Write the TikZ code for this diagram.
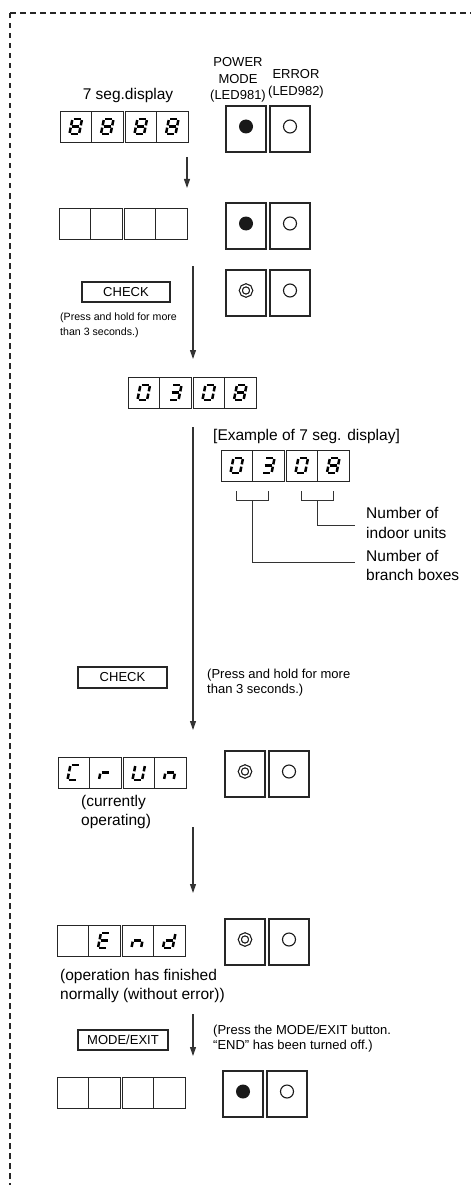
\documentclass[tikz,border=0pt]{standalone}
\usepackage{fontspec}
\setmainfont{Liberation Sans}
\usetikzlibrary{positioning, arrows.meta, calc}

\newcommand\bigtxt{\fontsize{15.5}{19}\selectfont}
\newcommand\smalltxt{\fontsize{13}{15}\selectfont}

% segment pairs of the 7-segment characters
\def\segeight{tl/tr,tr/mr,mr/br,bl/br,ml/bl,tl/ml,ml/mr}
\def\segzero{tl/tr,tr/mr,mr/br,bl/br,ml/bl,tl/ml}
\def\segthree{tl/tr,tr/mr,mr/br,bl/br,ml/mr}
\def\segC{tl/tr,tl/ml,ml/bl,bl/br}
\def\segr{ml/mr,ml/bl}
\def\segU{tr/mr,mr/br,bl/br,ml/bl,tl/ml}
\def\segn{ml/mr,mr/br,ml/bl}
\def\segE{tl/tr,tl/ml,ml/mr,ml/bl,bl/br}
\def\segd{tr/mr,mr/br,bl/br,ml/bl,ml/mr}

\tikzset{
  segcell/.style={draw=black!85, line width=0.9pt, minimum width=31.5pt, minimum height=31pt,
    inner sep=0pt, outer sep=0pt, anchor=north west},
  segline/.style={line width=2.5pt, shorten <=1.2pt, shorten >=1.2pt},
  ledbox/.style={draw=black!85, line width=1.2pt, minimum width=40pt, minimum height=46pt,
    inner sep=0pt, outer sep=0pt, anchor=north west},
  ledon/.style={circle, fill=black!90, minimum size=14pt, inner sep=0pt},
  ledoff/.style={circle, draw=black!90, line width=1.1pt, minimum size=13pt, inner sep=0pt},
  ledblink/.style={circle, draw=black!90, line width=1.2pt, double, double distance=1.6pt,
    minimum size=10.4pt, inner sep=0pt},
  btn/.style={draw=black!85, line width=1.2pt, minimum width=88pt, minimum height=20pt,
    inner sep=0pt, font=\smalltxt},
  flow/.style={draw=black!80, line width=1.1pt, -{Triangle[length=9pt, width=6pt]}},
  leader/.style={draw=black!80, line width=0.9pt},
  note/.style={inner sep=0pt, align=left, anchor=west},
}

% four cells: #1 name, (#2,#3) top left corner
\newcommand\segdisplay[3]{%
  \node[segcell] (#1-1) at (#2,#3) {};
  \node[segcell, right=0pt of #1-1] (#1-2) {};
  \node[segcell, right=2pt of #1-2] (#1-3) {};
  \node[segcell, right=0pt of #1-3] (#1-4) {};}

% one character in cell #1
\newcommand\segchar[2]{%
  \begin{scope}[shift={(#1.center)}, xslant=0.2]
    \coordinate (tl) at (-4.8,-7.6); \coordinate (tr) at (4.8,-7.6);
    \coordinate (ml) at (-4.8,0);    \coordinate (mr) at (4.8,0);
    \coordinate (bl) at (-4.8,7.6);  \coordinate (br) at (4.8,7.6);
    \foreach \p/\q in #2 {\draw[segline] (\p) -- (\q);}
  \end{scope}}

% POWER MODE / ERROR boxes: #1 name, (#2,#3) top left, #4 state of power lamp
\newcommand\ledpair[4]{%
  \node[ledbox] (#1-p) at (#2,#3) {};
  \node[ledbox, right=4pt of #1-p] (#1-e) {};
  \node[#4] (#1-pl) at ([yshift=-20.5pt]#1-p.north) {};
  \node[ledoff] (#1-el) at ([yshift=-20.5pt]#1-e.north) {};}

\begin{document}
\begin{tikzpicture}[x=1pt, y=-1pt]
  \useasboundingbox (0,0) rectangle (471,1185);
  \draw[black!85, line width=1.2pt, dash pattern=on 5.5pt off 4.5pt] (10,13) -- (471,13);
  \draw[black!85, line width=1.2pt, dash pattern=on 5.5pt off 4.5pt] (10,13) -- (10,1185);

  % headings
  \node[font=\bigtxt, inner sep=0pt] (title) at (128,95) {7 seg.display};
  \node[font=\smalltxt, align=center, inner sep=0pt] (pwrlbl) at (238,80)
    {POWER\\[1.5pt]MODE\\[1.5pt](LED981)};
  \node[font=\smalltxt, align=center, inner sep=0pt] (errlbl) at (296,84)
    {ERROR\\[1.5pt](LED982)};

  % step 1
  \segdisplay{d1}{60}{111}
  \foreach \c in {1,...,4} {\segchar{d1-\c}{\segeight}}
  \ledpair{l1}{226}{106}{ledon}
  \coordinate (a1s) at (187,157); \coordinate (a1e) at (187,188);
  \draw[flow] (a1s) -- (a1e);

  % step 2
  \segdisplay{d2}{59}{208}
  \ledpair{l2}{226}{203}{ledon}

  % first CHECK
  \node[btn] (chk1) at (126,292) {CHECK};
  \node[note, font=\fontsize{10.6}{14.5}\selectfont] (hold1) at (60,325.5)
    {(Press and hold for more\\than 3 seconds.)};
  \ledpair{l3}{226}{270}{ledblink}
  \coordinate (a2s) at (193,266); \coordinate (a2e) at (193,359);
  \draw[flow] (a2s) -- (a2e);

  % 0308
  \segdisplay{d3}{128}{377}
  \segchar{d3-1}{\segzero} \segchar{d3-2}{\segthree}
  \segchar{d3-3}{\segzero} \segchar{d3-4}{\segeight}

  % example
  \node[note, font=\bigtxt] (exlbl) at (213,436) {[Example of 7 seg. display]};
  \segdisplay{ex}{221}{450}
  \segchar{ex-1}{\segzero} \segchar{ex-2}{\segthree}
  \segchar{ex-3}{\segzero} \segchar{ex-4}{\segeight}
  \draw[leader] ($(ex-1.south)+(0,10)$) -- ++(0,9) -| ($(ex-2.south)+(0,10)$);
  \draw[leader] ($(ex-3.south)+(0,10)$) -- ++(0,9) -| ($(ex-4.south)+(0,10)$);
  \coordinate (brk1) at ($(ex-1.south)!0.5!(ex-2.south)+(0,19)$);
  \coordinate (brk2) at ($(ex-3.south)!0.5!(ex-4.south)+(0,19)$);
  \coordinate (lead1) at (355,562); \coordinate (lead2) at (355,525);
  \draw[leader] (brk1) |- (lead1);
  \draw[leader] (brk2) |- (lead2);
  \node[note, font=\fontsize{15.5}{19.5}\selectfont] (indoor) at (366,523)
    {Number of\\indoor units};
  \node[note, font=\fontsize{15.5}{19.5}\selectfont] (branch) at (366,565.5)
    {Number of\\branch boxes};

  % second CHECK
  \coordinate (a3s) at (193,427); \coordinate (a3e) at (193,730);
  \draw[flow] (a3s) -- (a3e);
  \node[btn, minimum width=89pt, minimum height=21pt] (chk2) at (122.5,677.5) {CHECK};
  \node[note, font=\smalltxt] (hold2) at (207,683)
    {(Press and hold for more\\than 3 seconds.)};

  % CrUn
  \segdisplay{d4}{58}{757}
  \segchar{d4-1}{\segC} \segchar{d4-2}{\segr}
  \segchar{d4-3}{\segU} \segchar{d4-4}{\segn}
  \ledpair{l4}{225}{751}{ledblink}
  \node[note, font=\bigtxt] (oper) at (81,811.5) {(currently\\operating)};
  \coordinate (a4s) at (193,827); \coordinate (a4e) at (193,893);
  \draw[flow] (a4s) -- (a4e);

  % End
  \segdisplay{d5}{57}{925}
  \segchar{d5-2}{\segE} \segchar{d5-3}{\segn} \segchar{d5-4}{\segd}
  \ledpair{l5}{225}{919}{ledblink}
  \node[note, font=\fontsize{15.5}{18.5}\selectfont] (fin) at (60,986)
    {(operation has finished\\normally (without error))};

  % MODE/EXIT
  \node[btn, minimum width=90pt] (mode) at (123,1040) {MODE/EXIT};
  \node[note, font=\smalltxt] (modenote) at (213,1038.5)
    {(Press the MODE/EXIT button.\\“END” has been turned off.)};
  \coordinate (a5s) at (193,1014); \coordinate (a5e) at (193,1056);
  \draw[flow] (a5s) -- (a5e);

  % last
  \segdisplay{d6}{57}{1077}
  \ledpair{l6}{223}{1071}{ledon}
\end{tikzpicture}
\end{document}
